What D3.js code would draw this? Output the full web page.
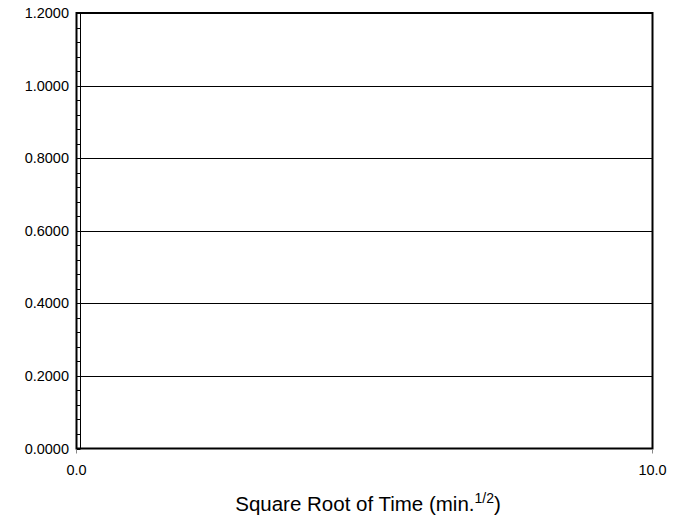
<!DOCTYPE html>
<html><head><meta charset="utf-8">
<script src="https://cdn.jsdelivr.net/npm/d3@7"></script>
<style>body{margin:0;background:#fff}svg{display:block}text{font-family:"Liberation Sans",Arial,sans-serif;fill:#000}</style>
</head><body><svg id="c" width="681" height="521"></svg>
<script>
const yTicks = [0, 0.2, 0.4, 0.6, 0.8, 1.0, 1.2];
const xTicks = [0, 10];
const yDomain = [0, 1.2];
const xDomain = [0, 10];
const minorStep = 0.04;
const xTitle = "Square Root of Time (min.";
const xTitleSup = "1/2";

const svg = d3.select("#c");
const L = 76.5, R = 652.5, T = 13, B = 448.5;
const x = d3.scaleLinear().domain(xDomain).range([L, R]);
const y = d3.scaleLinear().domain(yDomain).range([B, T]);

// gridlines
svg.append("g").selectAll("line").data(yTicks.filter(d => d > 0 && d < 1.2)).join("line")
  .attr("x1", L + 4).attr("x2", R).attr("y1", d => Math.round(y(d)) + 0.5).attr("y2", d => Math.round(y(d)) + 0.5)
  .attr("stroke", "#000").attr("stroke-width", 1);

// minor ticks ladder
const minors = d3.range(0, 1.2 + 1e-9, minorStep);
svg.append("g").selectAll("line").data(minors).join("line")
  .attr("x1", L).attr("x2", L + 4).attr("y1", d => Math.round(y(d)) + 0.5).attr("y2", d => Math.round(y(d)) + 0.5)
  .attr("stroke", "#000").attr("stroke-width", 1);
svg.append("line").attr("x1", L + 4).attr("x2", L + 4).attr("y1", T).attr("y2", B)
  .attr("stroke", "#000").attr("stroke-width", 1);

// frame
svg.append("rect").attr("x", L).attr("y", T).attr("width", R - L).attr("height", B - T)
  .attr("fill", "none").attr("stroke", "#000").attr("stroke-width", 2);

// x ticks below
svg.append("g").selectAll("line").data(xTicks).join("line")
  .attr("x1", d => x(d)).attr("x2", d => x(d)).attr("y1", B + 1).attr("y2", B + 5)
  .attr("stroke", "#888").attr("stroke-width", 1);

// y labels
svg.append("g").selectAll("text").data(yTicks).join("text")
  .attr("x", 69).attr("y", d => y(d)).attr("dy", "0.35em").attr("text-anchor", "end")
  .attr("font-size", 14.5).text(d => d3.format(".4f")(d));

// x labels
svg.append("g").selectAll("text").data(xTicks).join("text")
  .attr("x", d => x(d)).attr("y", 475).attr("text-anchor", "middle")
  .attr("font-size", 14.5).text(d => d3.format(".1f")(d));

// title
const t = svg.append("text").attr("x", 368).attr("y", 511).attr("text-anchor", "middle").attr("font-size", 20.5);
t.append("tspan").text(xTitle);
t.append("tspan").attr("font-size", 14).attr("dy", -8).text(xTitleSup);
t.append("tspan").attr("dy", 8).text(")");
</script></body></html>
